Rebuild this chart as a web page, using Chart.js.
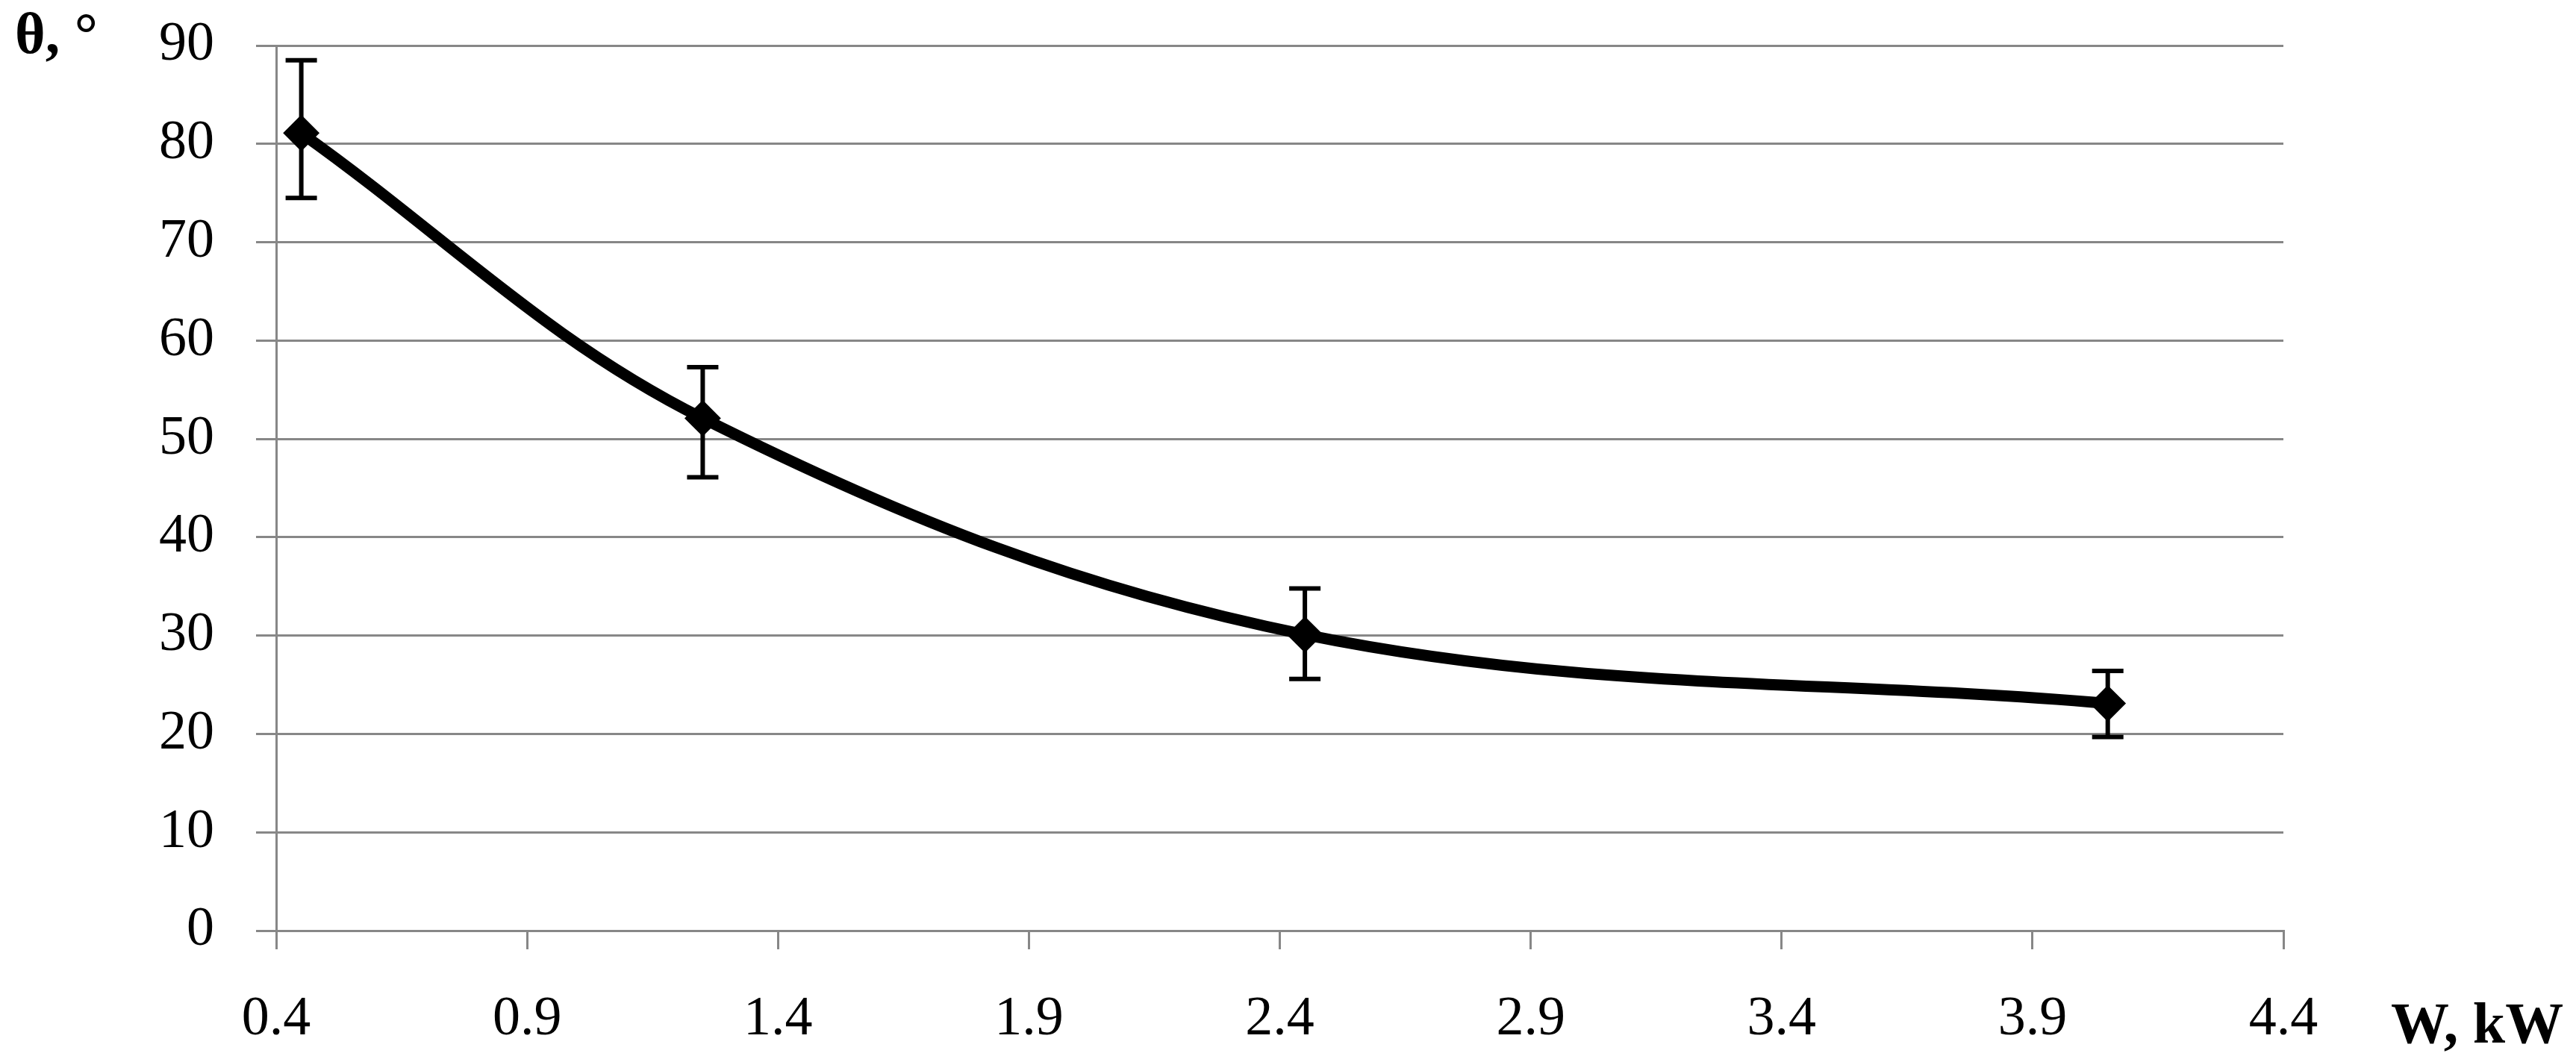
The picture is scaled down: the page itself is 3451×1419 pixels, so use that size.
<!DOCTYPE html>
<html>
<head>
<meta charset="utf-8">
<script src="https://cdn.jsdelivr.net/npm/chart.js@4/dist/chart.umd.min.js"></script>
<style>
  html, body { margin: 0; padding: 0; background: #ffffff; }
  #wrap { position: relative; width: 3451px; height: 1419px; }
  canvas { display: block; }
</style>
</head>
<body>
<div id="wrap"><canvas id="c" width="3451" height="1419"></canvas></div>
<script>
// ---- data ----
const powerKW   = [0.45, 1.25, 2.45, 4.05];        // W, kW
const thetaDeg  = [81.1, 52.1, 30.1, 23.1];        // θ, °
const errUpper  = [88.5, 57.3, 34.8, 26.4];        // error bar top
const errLower  = [74.5, 46.1, 25.6, 19.7];        // error bar bottom
const xTickVals = [0.4, 0.9, 1.4, 1.9, 2.4, 2.9, 3.4, 3.9, 4.4];
const yTickVals = [0, 10, 20, 30, 40, 50, 60, 70, 80, 90];
const yAxisTitle = 'θ, °';
const xAxisTitle = 'W, kW';

const GRID = '#878787';
const FONT = '"Liberation Serif", "Times New Roman", serif';

const points = powerKW.map((w, i) => ({ x: w, y: thetaDeg[i] }));

const errorBars = {
  id: 'errorBars',
  beforeDatasetsDraw(chart) {
    const xs = chart.scales.x, ys = chart.scales.y, ctx = chart.ctx;
    ctx.save();
    ctx.strokeStyle = '#000';
    ctx.lineWidth = 6;
    ctx.lineCap = 'butt';
    const cap = 21;
    powerKW.forEach((w, i) => {
      const px = xs.getPixelForValue(w);
      const top = ys.getPixelForValue(errUpper[i]);
      const bot = ys.getPixelForValue(errLower[i]);
      ctx.beginPath();
      ctx.moveTo(px, top); ctx.lineTo(px, bot);
      ctx.moveTo(px - cap, top); ctx.lineTo(px + cap, top);
      ctx.moveTo(px - cap, bot); ctx.lineTo(px + cap, bot);
      ctx.stroke();
    });
    ctx.restore();
  }
};

const axisTitles = {
  id: 'axisTitles',
  afterDraw(chart) {
    const ctx = chart.ctx;
    ctx.save();
    ctx.fillStyle = '#000';
    ctx.font = 'bold 78px ' + FONT;
    ctx.textBaseline = 'alphabetic';
    ctx.textAlign = 'left';
    ctx.fillText(yAxisTitle, 20, 71);
    ctx.fillText(xAxisTitle, 3203, 1397);
    ctx.restore();
  }
};

new Chart(document.getElementById('c'), {
  type: 'scatter',
  data: {
    datasets: [{
      data: points,
      showLine: true,
      borderColor: '#000',
      borderWidth: 15,
      tension: 0.36,
      pointStyle: 'rectRot',
      pointRadius: 23,
      pointHoverRadius: 23,
      pointBackgroundColor: '#000',
      pointBorderColor: '#000',
      pointBorderWidth: 2
    }]
  },
  options: {
    responsive: false,
    animation: false,
    events: [],
    layout: { padding: { left: 0, top: 61, right: 392, bottom: 0 } },
    plugins: {
      legend: { display: false },
      tooltip: { enabled: false },
      title: { display: false }
    },
    scales: {
      x: {
        type: 'linear',
        min: xTickVals[0],
        max: xTickVals[xTickVals.length - 1],
        afterBuildTicks(scale) { scale.ticks = xTickVals.map(v => ({ value: v })); },
        afterFit(scale) {
          scale.height = 1419 - 1247;
          scale.paddingLeft = 0; scale.paddingRight = 0;
        },
        border: { display: true, color: GRID, width: 3 },
        grid: { display: true, drawOnChartArea: false, drawTicks: true, tickLength: 25, tickWidth: 3, tickColor: GRID, color: GRID, lineWidth: 3 },
        ticks: {
          color: '#000',
          font: { family: FONT, size: 74 },
          padding: 50,
          maxRotation: 0,
          autoSkip: false,
          callback: v => Number(v).toFixed(1)
        }
      },
      y: {
        type: 'linear',
        min: yTickVals[0],
        max: yTickVals[yTickVals.length - 1],
        afterBuildTicks(scale) { scale.ticks = yTickVals.map(v => ({ value: v })); },
        afterFit(scale) {
          scale.width = 370;
          scale.paddingTop = 0; scale.paddingBottom = 0;
        },
        border: { display: true, color: GRID, width: 3 },
        grid: { display: true, drawOnChartArea: true, drawTicks: true, tickLength: 27, color: GRID, lineWidth: 3, tickColor: GRID, tickWidth: 3 },
        ticks: {
          color: '#000',
          font: { family: FONT, size: 74 },
          padding: 56,
          autoSkip: false,
          callback: v => String(v)
        }
      }
    }
  },
  plugins: [errorBars, axisTitles]
});
</script>
</body>
</html>
